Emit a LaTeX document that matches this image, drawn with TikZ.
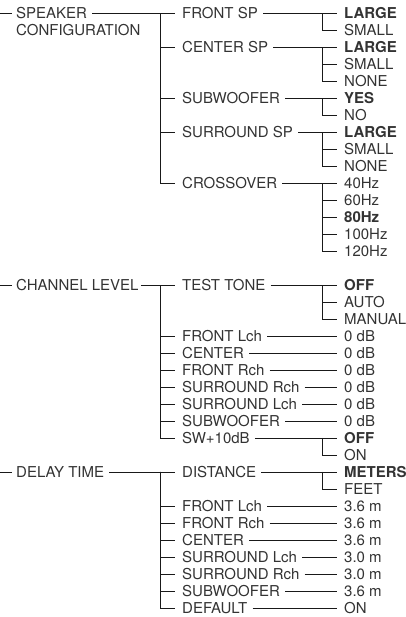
\documentclass[tikz,border=0pt]{standalone}
\usepackage{fontspec}
\setmainfont{TeX Gyre Heros}
\usepackage{tikz}
\usetikzlibrary{positioning, calc}
\definecolor{MenuText}{gray}{0.2}
\definecolor{MenuLine}{gray}{0.1}
\tikzset{
    item/.style={
        anchor=west,
        inner sep=0pt,
        text height=10.7pt,
        text depth=0pt,
        font=\fontsize{15}{17}\selectfont,
        text=MenuText
    },
    pick/.style={item, font=\fontsize{15}{17}\selectfont\bfseries},
    wire/.style={draw=MenuLine, line width=0.75pt},
    lead/.style={wire, shorten <=5pt, shorten >=7pt},
    tap/.style={wire, shorten >=7pt}
}

\begin{document}
\begin{tikzpicture}[x=1pt, y=-17pt]

\useasboundingbox (0,-0.765) rectangle (406,35.53);

% --- Top menus ---
\foreach \name/\row/\lab in {spk/0/SPEAKER, chlvl/16/CHANNEL LEVEL, delay/27/DELAY TIME} {
    \coordinate (\name-in) at (0,\row);
    \coordinate (\name-bus) at (160,\row);
    \node[item] (\name) at (16,\row) {\lab};
    \draw[tap, shorten >=4pt] (\name-in) -- (\name);
}
\node[item] (spk-b) at (16,1) {CONFIGURATION};

% --- Sub menus ---
\foreach \up/\name/\row/\lab in {
    spk/frontsp/0/FRONT SP, spk/centersp/2/CENTER SP, spk/subwf/5/SUBWOOFER,
    spk/surrsp/7/SURROUND SP, spk/xover/10/CROSSOVER,
    chlvl/tone/16/TEST TONE, chlvl/chfl/19/FRONT Lch, chlvl/chc/20/CENTER,
    chlvl/chfr/21/FRONT Rch, chlvl/chsr/22/SURROUND Rch, chlvl/chsl/23/SURROUND Lch,
    chlvl/chsw/24/SUBWOOFER, chlvl/swgain/25/SW+10dB,
    delay/dist/27/DISTANCE, delay/dlfl/29/FRONT Lch, delay/dlfr/30/FRONT Rch,
    delay/dlc/31/CENTER, delay/dlsl/32/SURROUND Lch, delay/dlsr/33/SURROUND Rch,
    delay/dlsw/34/SUBWOOFER, delay/dflt/35/DEFAULT} {
    \node[item] (\name) at (182,\row) {\lab};
    \draw[tap] (\up-bus) |- (\name);
}
\draw[lead] (spk) -- (frontsp);
\draw[lead, shorten <=2pt] (chlvl) -- (tone);
\draw[lead] (delay) -- (dist);

% --- Settings with a choice ---
\foreach \grp/\row/\opts in {
    frontsp/0/{pick/LARGE, item/SMALL},
    centersp/2/{pick/LARGE, item/SMALL, item/NONE},
    subwf/5/{pick/YES, item/NO},
    surrsp/7/{pick/LARGE, item/SMALL, item/NONE},
    xover/10/{item/40Hz, item/60Hz, pick/80Hz, item/100Hz, item/120Hz},
    tone/16/{pick/OFF, item/AUTO, item/MANUAL},
    swgain/25/{pick/OFF, item/ON},
    dist/27/{pick/METERS, item/FEET}} {
    \coordinate (\grp-bus) at (322,\row);
    \foreach \st/\val [count=\i from 0] in \opts {
        \node[\st] (\grp-\i) at (344,\row+\i) {\val};
        \draw[tap] (\grp-bus) |- (\grp-\i);
    }
    \draw[lead] (\grp) -- (\grp-0);
}

% --- Settings with one value ---
\foreach \name/\val in {chfl/0 dB, chc/0 dB, chfr/0 dB, chsr/0 dB, chsl/0 dB, chsw/0 dB,
    dlfl/3.6 m, dlfr/3.6 m, dlc/3.6 m, dlsl/3.0 m, dlsr/3.0 m, dlsw/3.6 m, dflt/ON} {
    \node[item] (\name-0) at (344,0 |- \name) {\val};
    \draw[lead] (\name) -- (\name-0);
}

\end{tikzpicture}
\end{document}
